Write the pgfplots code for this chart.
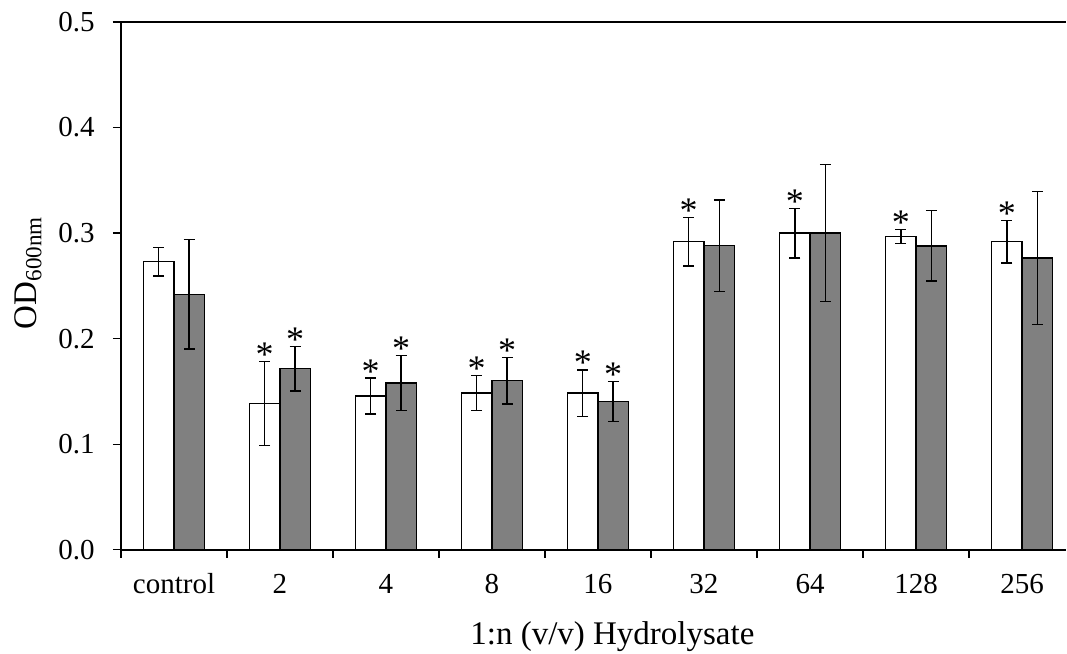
\documentclass[border=0pt]{standalone}
\usepackage{pgfplots}
\pgfplotsset{compat=1.18}
\usepackage{pgfplotstable}
\usepackage{fontspec}
\setmainfont{Liberation Serif}
\definecolor{barGray}{RGB}{128,128,128}

\pgfplotstableread{
x m e s
0 0.273 0.0135 {}
1 0.1385 0.040 *
2 0.1455 0.017 *
3 0.1484 0.0167 *
4 0.1484 0.022 *
5 0.292 0.023 *
6 0.300 0.0235 *
7 0.2967 0.0065 *
8 0.2917 0.020 *
}\whiteData

\pgfplotstableread{
x m e s
0 0.242 0.052 {}
1 0.1714 0.021 *
2 0.158 0.026 *
3 0.160 0.022 *
4 0.1405 0.019 *
5 0.288 0.0435 {}
6 0.300 0.065 {}
7 0.2879 0.0335 {}
8 0.2765 0.063 {}
}\grayData

\begin{document}
\begin{tikzpicture}[font=\fontsize{14.5}{17}\selectfont]
\begin{axis}[
  scale only axis,
  width=472.5pt, height=263.85pt,
  xmin=-0.5, xmax=8.415,
  ymin=0, ymax=0.5,
  ybar=0pt, bar width=15.25pt,
  axis x line*=bottom, axis y line*=left,
  axis line style={line width=0.85pt, -},
  xtick={0,...,8},
  xticklabels={control,2,4,8,16,32,64,128,256},
  minor xtick={-0.5,0.5,...,7.5},
  major x tick style={draw=none},
  minor x tick style={line width=0.65pt, black},
  minor tick length=4pt,
  ytick={0,0.1,...,0.5},
  major y tick style={line width=0.65pt, black},
  major tick length=4pt,
  tick align=outside,
  tick label style={font=\fontsize{14.5}{17}\selectfont},
  /pgf/number format/assume math mode=true,
  y tick label style={/pgf/number format/fixed, /pgf/number format/fixed zerofill, /pgf/number format/precision=1},
  every y tick label/.append style={anchor=east, inner sep=0pt, xshift=-9pt},
  every x tick label/.append style={anchor=base, inner sep=0pt, yshift=-17.8pt},
  xlabel={1:n (v/v) Hydrolysate},
  every axis x label/.style={at={(axis description cs:0.52,0)}, anchor=base, yshift=-47.5pt, font=\fontsize{16.5}{19}\selectfont},
  ylabel={OD\textsubscript{600nm}},
  every axis y label/.style={at={([xshift=-46.5pt]axis description cs:0,0.525)}, rotate=90, anchor=center, font=\fontsize{16.5}{19}\selectfont},
  clip=false,
  point meta=explicit symbolic,
  nodes near coords,
  visualization depends on={\thisrow{e}*527.7 \as \eshift},
  every node near coord/.append style={font=\fontsize{18}{20}\selectfont, anchor=base, inner sep=0pt, yshift=\eshift pt - 2.5pt},
]
\coordinate (bl) at (rel axis cs:0,0);
\draw[line width=0.85pt] ([xshift=-4pt]rel axis cs:0,1) -- (rel axis cs:1,1);
\addplot[fill=white, draw=black, line width=0.65pt,
  error bars/.cd, y dir=both, y explicit,
  error bar style={line width=0.75pt, black},
  error mark options={rotate=90, mark size=2.75pt, line width=0.75pt, black}]
  table[x=x, y=m, y error=e, meta=s] {\whiteData};
\addplot[fill=barGray, draw=black, line width=0.65pt,
  error bars/.cd, y dir=both, y explicit,
  error bar style={line width=0.75pt, black},
  error mark options={rotate=90, mark size=2.75pt, line width=0.75pt, black}]
  table[x=x, y=m, y error=e, meta=s] {\grayData};
\end{axis}
\pgfresetboundingbox
\path[use as bounding box] (bl) ++(-60.5pt,-52.15pt) rectangle ++(533.5pt,327pt);
\end{tikzpicture}
\end{document}
